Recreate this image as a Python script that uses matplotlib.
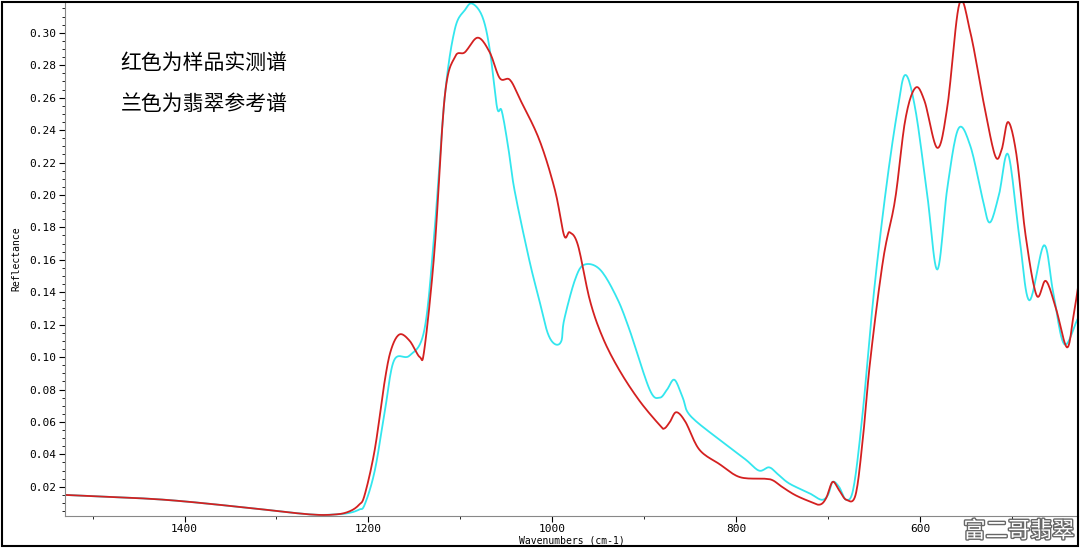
import numpy as np
import matplotlib.pyplot as plt
import matplotlib.patheffects as pe
from matplotlib.ticker import MultipleLocator
from matplotlib.patches import Rectangle

plt.rcParams['font.family'] = ['DejaVu Sans Mono', 'Noto Sans CJK SC']

# sample spectrum (red)
red_x = [1530, 1450, 1400, 1330, 1264, 1235, 1220, 1210, 1204, 1193, 1182, 1175, 1166, 1155,
         1144, 1139, 1128, 1117, 1106, 1095, 1081, 1068, 1057, 1046, 1035, 1014, 997, 987,
         981, 972, 959, 945, 927, 905, 883, 878, 872, 865, 855, 840, 818, 796, 769, 760,
         750, 736, 720, 709, 702, 695, 688, 680, 670, 662, 654, 640, 627, 616, 605, 595,
         581, 570, 557, 545, 530, 518, 511, 504, 495, 485, 473, 463, 452, 440, 433, 428]
red_y = [0.015, 0.013, 0.011, 0.007, 0.003, 0.003, 0.005, 0.009, 0.015, 0.043, 0.086, 0.105,
         0.114, 0.110, 0.100, 0.105, 0.166, 0.260, 0.285, 0.288, 0.297, 0.288, 0.272, 0.271,
         0.259, 0.234, 0.203, 0.175, 0.177, 0.169, 0.135, 0.112, 0.092, 0.073, 0.058, 0.056,
         0.060, 0.066, 0.060, 0.043, 0.034, 0.026, 0.025, 0.024, 0.020, 0.015, 0.011, 0.009,
         0.013, 0.023, 0.018, 0.012, 0.015, 0.050, 0.098, 0.160, 0.197, 0.246, 0.266, 0.258,
         0.229, 0.255, 0.318, 0.300, 0.255, 0.224, 0.228, 0.245, 0.225, 0.175, 0.138, 0.147,
         0.130, 0.106, 0.125, 0.143]

# jadeite reference spectrum (cyan)
cyan_x = [1530, 1450, 1400, 1330, 1264, 1235, 1220, 1210, 1204, 1193, 1182, 1172, 1155,
          1139, 1128, 1117, 1106, 1095, 1087, 1076, 1068, 1060, 1055, 1048, 1041, 1025, 1014,
          1005, 997, 990, 987, 975, 965, 948, 930, 916, 894, 883, 875, 867, 858, 850, 818,
          790, 775, 764, 755, 742, 720, 707, 700, 695, 688, 680, 672, 662, 650, 637, 625,
          616, 605, 592, 581, 570, 558, 545, 532, 524, 514, 504, 492, 481, 465, 455, 443, 428]
cyan_y = [0.015, 0.013, 0.011, 0.007, 0.003, 0.003, 0.004, 0.006, 0.009, 0.030, 0.067, 0.098,
          0.101, 0.117, 0.178, 0.260, 0.302, 0.314, 0.318, 0.310, 0.290, 0.254, 0.252, 0.230,
          0.203, 0.160, 0.135, 0.115, 0.108, 0.110, 0.123, 0.148, 0.157, 0.154, 0.137, 0.117,
          0.080, 0.075, 0.080, 0.086, 0.075, 0.064, 0.049, 0.037, 0.030, 0.032, 0.028, 0.022,
          0.016, 0.012, 0.015, 0.023, 0.020, 0.012, 0.020, 0.067, 0.140, 0.203, 0.250, 0.274,
          0.253, 0.200, 0.154, 0.205, 0.241, 0.230, 0.198, 0.183, 0.200, 0.225, 0.175, 0.135,
          0.169, 0.140, 0.108, 0.124]


def smooth(xs, ys, n=12):
    # centripetal-free Catmull-Rom through the read points, only for a rounder line
    x = np.asarray(xs, float)
    y = np.asarray(ys, float)
    px = np.concatenate([[2 * x[0] - x[1]], x, [2 * x[-1] - x[-2]]])
    py = np.concatenate([[2 * y[0] - y[1]], y, [2 * y[-1] - y[-2]]])
    ox, oy = [], []
    t = np.linspace(0, 1, n, endpoint=False)
    for i in range(1, len(px) - 2):
        for arr, out in ((px, ox), (py, oy)):
            p0, p1, p2, p3 = arr[i - 1:i + 3]
            out.extend(0.5 * (2 * p1 + (-p0 + p2) * t + (2 * p0 - 5 * p1 + 4 * p2 - p3) * t ** 2
                              + (-p0 + 3 * p1 - 3 * p2 + p3) * t ** 3))
    ox.append(x[-1])
    oy.append(y[-1])
    return ox, oy


fig = plt.figure(figsize=(10.8, 5.48), dpi=100)
ax = fig.add_axes([65 / 1080, 32 / 548, 1013 / 1080, 514 / 548])

ax.plot(*smooth(cyan_x, cyan_y), color='#33e6ee', lw=1.3)
ax.plot(*smooth(red_x, red_y), color='#d42020', lw=1.3)

ax.set_xlim(1530, 428)
ax.set_ylim(0.002, 0.319)
ax.xaxis.set_major_locator(MultipleLocator(200))
ax.xaxis.set_minor_locator(MultipleLocator(100))
ax.yaxis.set_major_locator(MultipleLocator(0.02))
ax.yaxis.set_minor_locator(MultipleLocator(0.005))
ax.yaxis.set_major_formatter(plt.FuncFormatter(lambda v, p: '%.2f' % v))
ax.tick_params(labelsize=8, length=4, width=0.8, pad=2)
ax.tick_params(which='minor', length=2)
ax.spines['top'].set_visible(False)
ax.spines['right'].set_visible(False)
ax.spines['left'].set_color('#888888')
ax.spines['bottom'].set_color('#888888')
ax.set_xlabel('Wavenumbers (cm-1)', fontsize=7, labelpad=1)
ax.set_ylabel('Reflectance', fontsize=7, labelpad=6)

ax.text(0.055, 0.87, '红色为样品实测谱', transform=ax.transAxes, fontsize=15,
        family=['Noto Sans CJK SC'])
ax.text(0.055, 0.79, '兰色为翡翠参考谱', transform=ax.transAxes, fontsize=15,
        family=['Noto Sans CJK SC'])

fig.text(0.995, 0.01, '富二哥翡翠', ha='right', va='bottom', fontsize=16, color='white',
         family=['Noto Sans CJK SC'],
         path_effects=[pe.withStroke(linewidth=2, foreground='#666666')])

fig.patches.append(Rectangle((0.002, 0.003), 0.996, 0.994, transform=fig.transFigure,
                             fill=False, edgecolor='black', lw=1.5))

fig.savefig('out.png', dpi=100)
